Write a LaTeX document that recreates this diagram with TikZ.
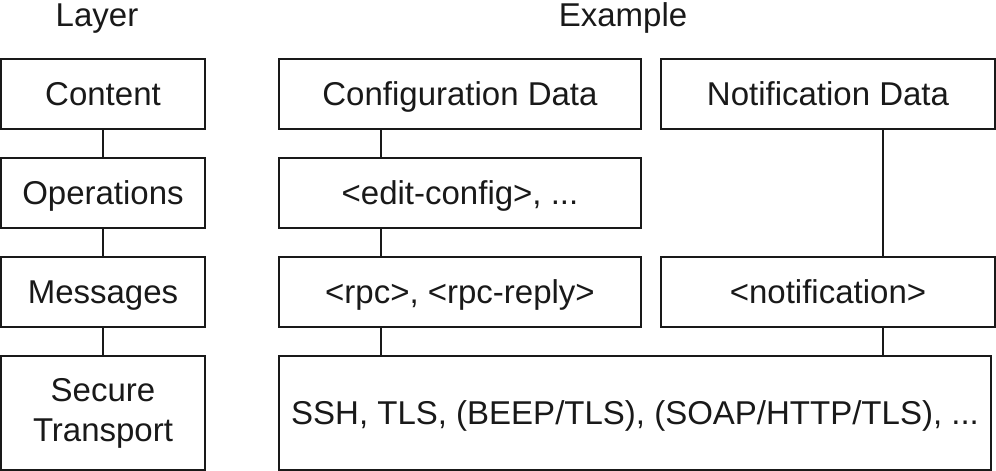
\documentclass[tikz,border=0pt]{standalone}
\usepackage{fontspec}
\setmainfont{Liberation Sans}
\begin{document}
\begin{tikzpicture}[x=1pt,y=-1pt,
  box/.style={draw=black!90,line width=1.8pt,inner sep=0pt,align=center,
    font=\fontsize{33}{40}\selectfont,text=black!90},
  one/.style={text height=23.6pt,text depth=0pt},
  link/.style={draw=black!90,line width=1.8pt},
  head/.style={font=\fontsize{33}{38}\selectfont,text=black!90}]
\useasboundingbox (0,0) rectangle (996,471);
\node[head] (hl) at (97,19) {Layer};
\node[head] (he) at (623,18) {Example};
% layer column
\node[box,one,minimum width=204pt,minimum height=70pt] (content) at (103,94) {Content};
\node[box,one,minimum width=204pt,minimum height=70pt] (ops) at (103,193) {Operations};
\node[box,one,minimum width=204pt,minimum height=70pt] (msg) at (103,292) {Messages};
\node[box,minimum width=204pt,minimum height=114pt] (sec) at (103,413) {Secure\\Transport};
% examples
\node[box,one,minimum width=362pt,minimum height=70pt] (cfg) at (460,94) {Configuration Data};
\node[box,one,minimum width=334pt,minimum height=70pt] (ntf) at (828,94) {Notification Data};
\node[box,one,minimum width=362pt,minimum height=70pt] (edit) at (460,193) {<edit-config>, ...};
\node[box,one,minimum width=362pt,minimum height=70pt] (rpc) at (460,292) {<rpc>, <rpc-reply>};
\node[box,one,minimum width=334pt,minimum height=70pt] (notif) at (828,292) {<notification>};
\node[box,one,minimum width=712pt,minimum height=114pt] (trans) at (635,413) {SSH, TLS, (BEEP/TLS), (SOAP/HTTP/TLS), ...};
\coordinate (c1) at (381,0);
\coordinate (c2) at (883,0);
% connectors
\draw[link] (content) -- (ops);
\draw[link] (ops) -- (msg);
\draw[link] (msg) -- (sec);
\draw[link] (cfg.south -| c1) -- (edit.north -| c1);
\draw[link] (edit.south -| c1) -- (rpc.north -| c1);
\draw[link] (rpc.south -| c1) -- (trans.north -| c1);
\draw[link] (ntf.south -| c2) -- (notif.north -| c2);
\draw[link] (notif.south -| c2) -- (trans.north -| c2);
\end{tikzpicture}
\end{document}
